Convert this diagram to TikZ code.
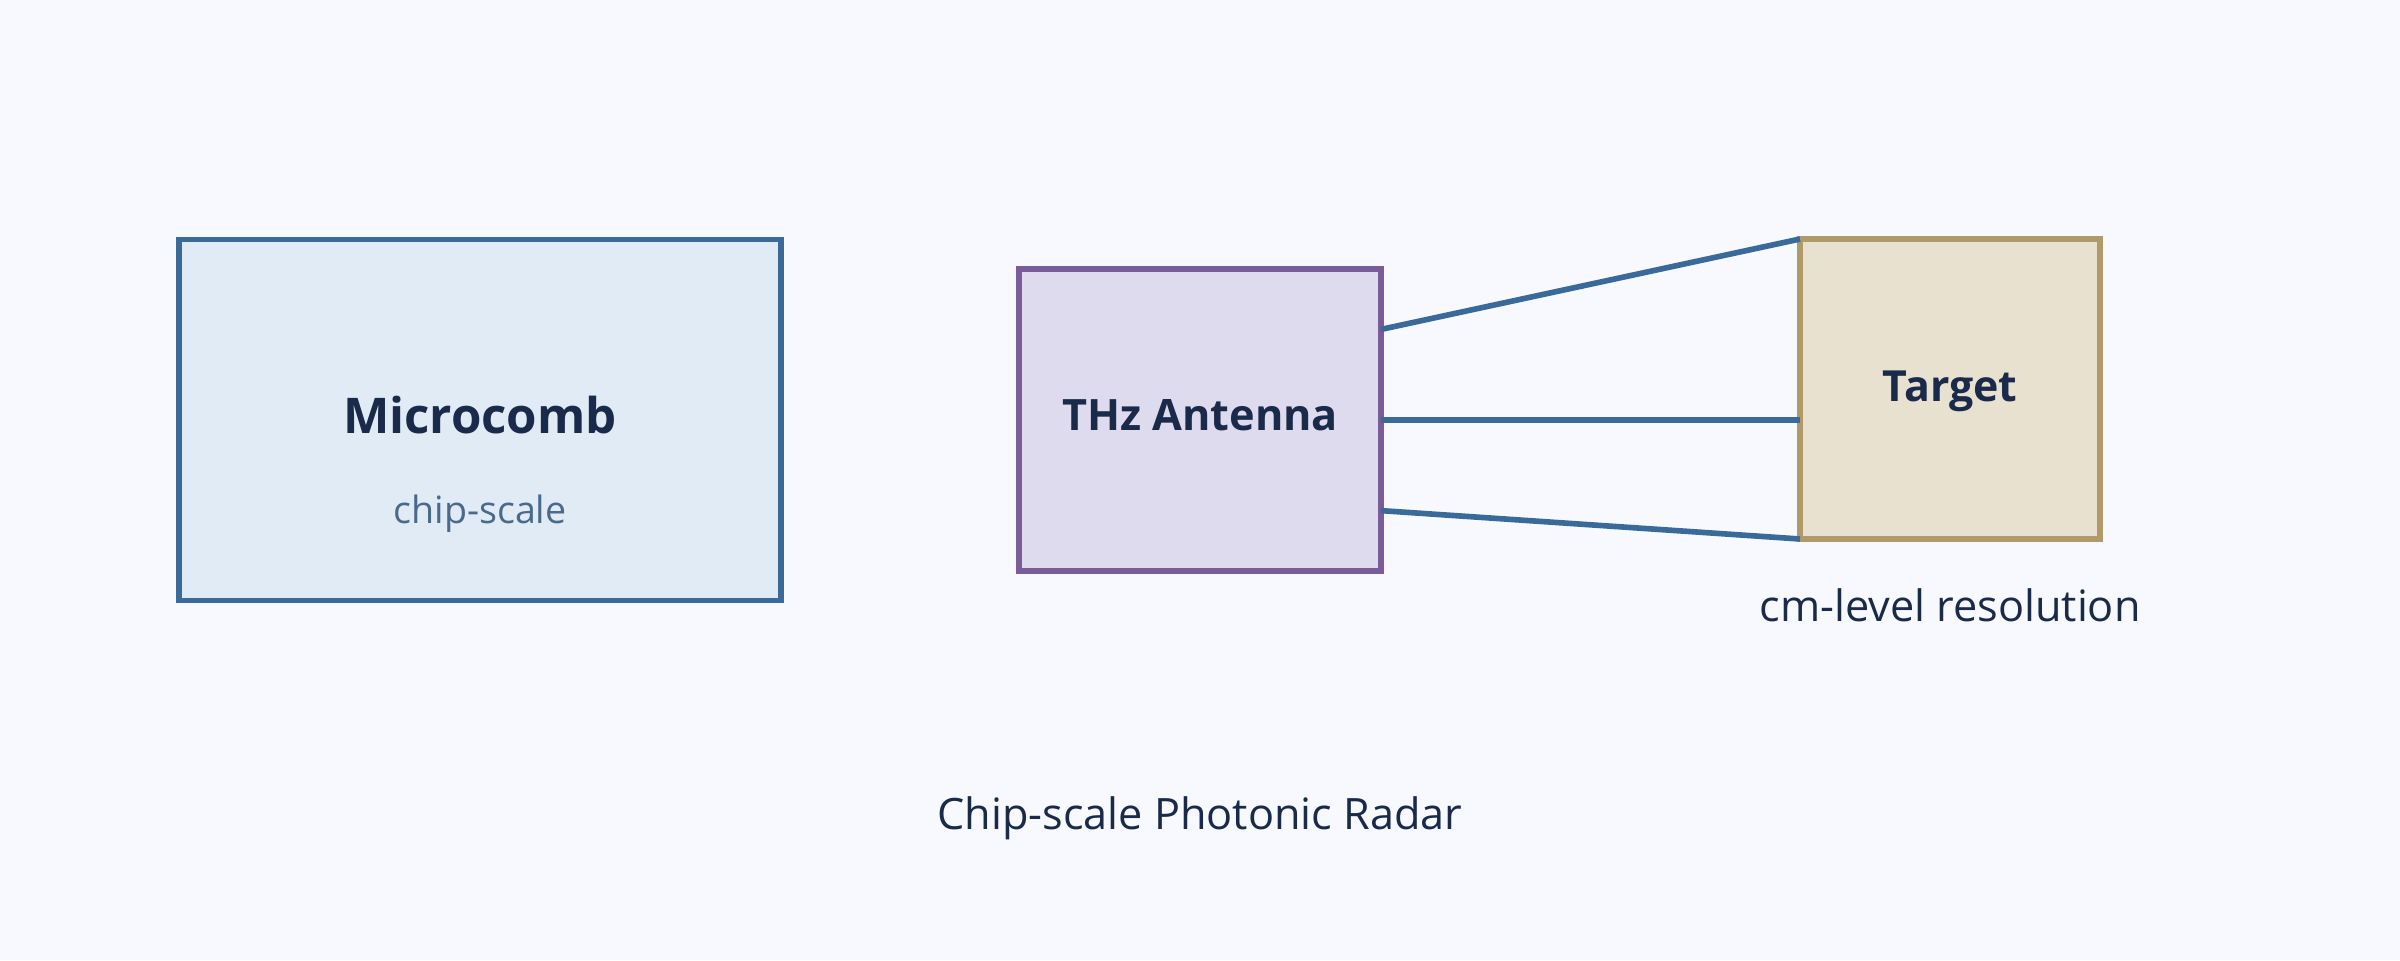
\documentclass[tikz,border=0pt]{standalone}
\usepackage{fontspec}
\setmainfont{Open Sans}
\usetikzlibrary{calc}
\definecolor{bgcol}{HTML}{F7F9FE}
\definecolor{ink}{HTML}{1A2A4A}
\definecolor{subink}{HTML}{4A6A8C}
\definecolor{combfill}{HTML}{E1EBF6}
\definecolor{combline}{HTML}{3A6A9A}
\definecolor{antfill}{HTML}{DFDBEF}
\definecolor{antline}{HTML}{7A5C9A}
\definecolor{tgtfill}{HTML}{E9E1CF}
\definecolor{tgtline}{HTML}{B09A6A}
\begin{document}
\begin{tikzpicture}[
    box/.style={draw, line width=1.6pt, inner sep=0pt, outer sep=0pt},
    beam/.style={combline, line width=1.6pt},
    lbl/.style={text=ink, font=\fontsize{12.3}{15}\selectfont}]
    \fill[bgcol] (0,0) rectangle (24,9.6);
    \node[box, draw=combline, fill=combfill, minimum width=6.02cm, minimum height=3.61cm] (comb) at (4.80,5.40) {};
    \node[box, draw=antline, fill=antfill, minimum width=3.62cm, minimum height=3.02cm] (ant) at (12.00,5.40) {};
    \node[box, draw=tgtline, fill=tgtfill, minimum width=3.00cm, minimum height=3.00cm] (tgt) at (19.50,5.71) {};
    \node[text=ink, font=\bfseries\fontsize{14}{17}\selectfont] (combname) at (4.80,5.45) {Microcomb};
    \node[text=subink, font=\fontsize{10.7}{13}\selectfont] (combsub) at (4.80,4.46) {chip-scale};
    \node[text=ink, font=\bfseries\fontsize{12.3}{15}\selectfont] (antname) at (12.00,5.45) {THz Antenna};
    \node[text=ink, font=\bfseries\fontsize{12.2}{15}\selectfont] (tgtname) at (19.50,5.69) {Target};
    \node[lbl] (res) at (19.50,3.55) {cm-level resolution};
    \node[lbl] (title) at (12.00,1.42) {Chip-scale Photonic Radar};
    % beams
    \draw[beam] ($(ant.north east)!0.2!(ant.south east)$) -- (tgt.north west);
    \draw[beam] (ant.east) -- (ant.east -| tgt.west);
    \draw[beam] ($(ant.north east)!0.8!(ant.south east)$) -- (tgt.south west);
\end{tikzpicture}
\end{document}
